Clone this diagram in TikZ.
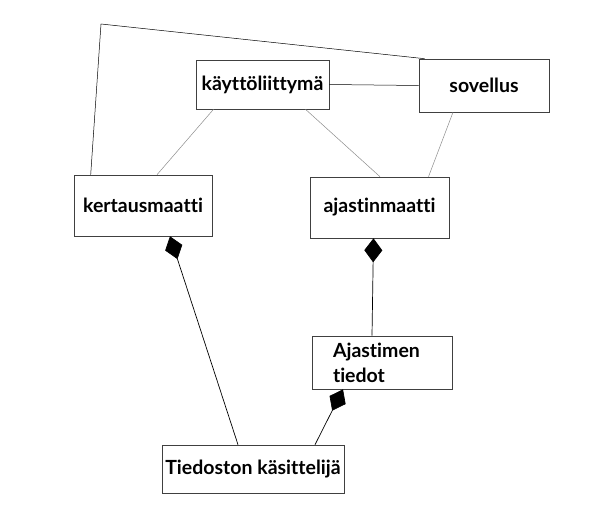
\documentclass[tikz,border=0pt]{standalone}
\usepackage{fontspec}
\setmainfont[Ligatures=NoCommon]{Lato}
\usetikzlibrary{arrows.meta}
\begin{document}
\begin{tikzpicture}[x=1pt,y=-1pt,
  box/.style={draw=black!75,line width=0.6pt,fill=white,inner sep=0pt,font=\fontsize{19.5}{21}\bfseries\selectfont},
  thinline/.style={draw=black!45,line width=0.5pt},
  darkline/.style={draw=black,line width=0.7pt},
  comp/.style={darkline,-{Diamond[length=24pt,width=18pt,fill=black]}}]
\useasboundingbox (0,0) rectangle (600,514);
\node[box,minimum width=133pt,minimum height=49pt] (kayt) at (262.5,84.5) {käyttöliittymä};
\node[box,minimum width=130pt,minimum height=53pt] (sov) at (484,85.5) {sovellus};
\node[box,minimum width=138pt,minimum height=61pt] (kert) at (143,205.5) {kertausmaatti};
\node[box,minimum width=139pt,minimum height=61pt] (ajm) at (379.5,207.5) {ajastinmaatti};
\node[box,minimum width=140pt,minimum height=53pt,align=left,text width=98pt,font=\fontsize{19.5}{25}\bfseries\selectfont] (ajt) at (382,362.5) {Ajastimen\\tiedot};
\node[box,minimum width=182pt,minimum height=48pt] (tied) at (253,469) {Tiedoston käsittelijä};
\coordinate (corner) at (101,24);
\draw[darkline,line width=0.5pt] ([xshift=17pt]kert.north west) -- (corner) -- ([xshift=6pt]sov.north west);
\draw[darkline,line width=0.5pt] (kayt.east) -- (sov.west);
\draw[thinline] ([xshift=-49pt]kayt.south) -- ([xshift=14pt]kert.north);
\draw[thinline] ([xshift=43pt]kayt.south) -- ([xshift=0.5pt]ajm.north);
\draw[thinline] ([xshift=-31pt]sov.south) -- ([xshift=49pt]ajm.north);
\draw[comp] ([xshift=-15pt]tied.north) -- ([xshift=27pt]kert.south);
\draw[comp] ([xshift=-10pt]ajt.north) -- ([xshift=-6pt]ajm.south);
\draw[comp] ([xshift=62pt]tied.north) -- ([xshift=-39pt]ajt.south);
\end{tikzpicture}
\end{document}
